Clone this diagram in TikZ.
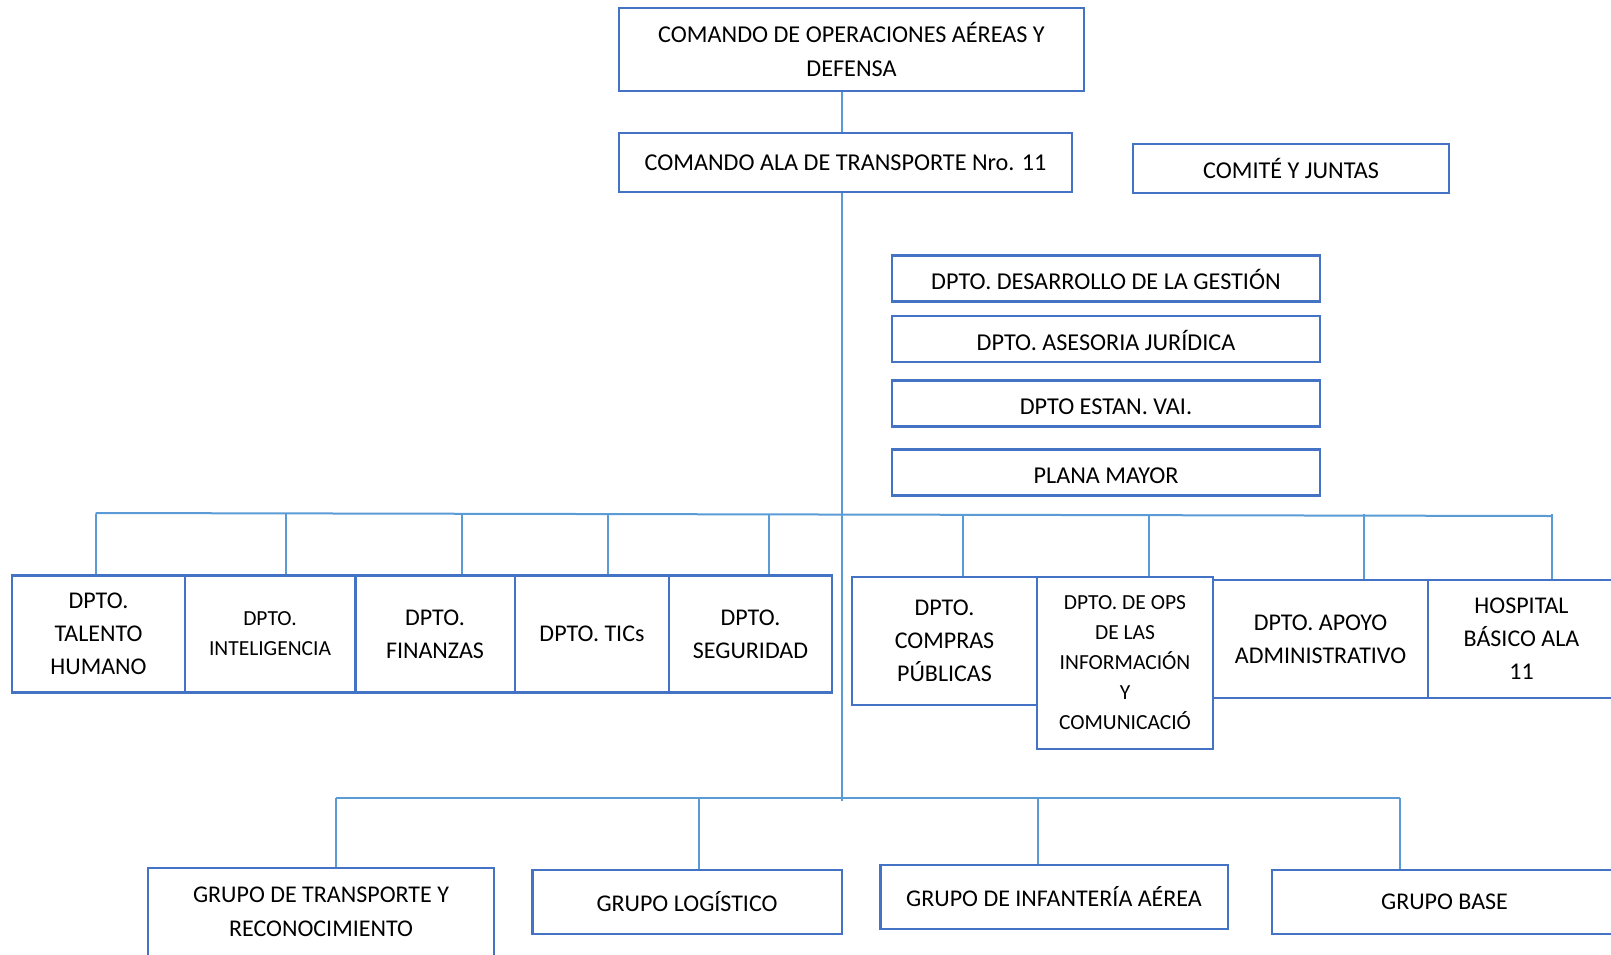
\documentclass[tikz,border=0pt]{standalone}
\usepackage{fontspec}
\setmainfont{Carlito}
\definecolor{boxblue}{HTML}{4472C4}
\definecolor{lineblue}{HTML}{5B9BD5}
\begin{document}
\begin{tikzpicture}[x=1pt, y=-1pt,
    unit/.style={draw=boxblue, line width=2.5pt, align=center, inner sep=0pt,
        font=\fontsize{24.2}{34}\selectfont},
    staff/.style={unit, minimum width=428pt, minimum height=46pt,
        text height=22pt, text depth=0pt},
    dept/.style={unit, font=\fontsize{24}{33}\selectfont, minimum height=117pt},
    smalltext/.style={font=\fontsize{21.5}{30}\selectfont},
    grupo/.style={unit, font=\fontsize{24}{34}\selectfont, minimum height=64pt},
    link/.style={draw=lineblue, line width=2pt}]
    \useasboundingbox (0,0) rectangle (1611,954);
    \clip (0,0) rectangle (1611,954);
    % mando
    \node[unit, minimum width=465pt, minimum height=83pt] (cao) at (851.5,49.5)
        {COMANDO DE OPERACIONES AÉREAS Y\\DEFENSA};
    \node[unit, minimum width=453pt, minimum height=59pt] (cat) at (845.5,162.5)
        {COMANDO ALA DE TRANSPORTE Nro. 11};
    \node[unit, minimum width=316pt, minimum height=49pt] (comite) at (1291,168.5)
        {COMITÉ Y JUNTAS};
    % staff
    \foreach \n/\y/\t in {desarrollo/278.5/DPTO. DESARROLLO DE LA GESTIÓN,
                          asesoria/339/DPTO. ASESORIA JURÍDICA,
                          estan/403.5/DPTO ESTAN. VAI.,
                          plana/472.5/PLANA MAYOR}
        \node[staff] (\n) at (1106,\y) {\t};
    % departamentos
    \node[dept, minimum width=173pt] (tal) at (98.5,634) {DPTO.\\TALENTO\\HUMANO};
    \node[dept, smalltext, minimum width=170.5pt] (intel) at (270,634) {DPTO.\\INTELIGENCIA};
    \node[dept, minimum width=159.5pt] (fin) at (435,634) {DPTO.\\FINANZAS};
    \node[dept, minimum width=154pt] (tics) at (592,634) {DPTO. TICs};
    \node[dept, minimum width=163pt] (seg) at (750.5,634) {DPTO.\\SEGURIDAD};
    \node[dept, minimum width=185pt, minimum height=128pt] (compras) at (944.5,641)
        {DPTO.\\COMPRAS\\PÚBLICAS};
    \node[dept, smalltext, minimum width=176pt, minimum height=172pt] (ops) at (1125,663)
        {DPTO. DE OPS\\DE LAS\\INFORMACIÓN\\Y\\COMUNICACIÓ};
    \node[dept, minimum width=215pt, minimum height=118pt] (apoyo) at (1320.5,639)
        {DPTO. APOYO\\ADMINISTRATIVO};
    \node[dept, minimum width=187pt, minimum height=118pt] (hosp) at (1521.5,639)
        {HOSPITAL\\BÁSICO ALA\\11};
    % grupos
    \node[grupo, minimum width=346pt, minimum height=88pt] (gtr) at (321,912)
        {GRUPO DE TRANSPORTE Y\\RECONOCIMIENTO};
    \node[grupo, minimum width=309.5pt] (glog) at (687,902) {GRUPO LOGÍSTICO};
    \node[grupo, minimum width=347.5pt] (ginf) at (1054,897) {GRUPO DE INFANTERÍA AÉREA};
    \node[grupo, minimum width=345pt] (gbase) at (1444.5,902) {GRUPO BASE};
    % lineas
    \coordinate (trunk) at (842,801);
    \draw[link] (cao.south -| trunk) -- (cat.north -| trunk);
    \draw[link] (cat.south -| trunk) -- (trunk);
    \coordinate (busL) at (95.5,513);
    \coordinate (busR) at (1552,516);
    \draw[link] (busL) -- (busR);
    \foreach \n/\x in {tal/95.5, intel/285.6, fin/462, tics/608, seg/768.5,
                       compras/962.7, ops/1148.6, apoyo/1364, hosp/1552}{
        \coordinate (d) at (\x,514);
        \draw[link] (d) -- (d |- \n.north);
    }
    \coordinate (gbusL) at (336,798);
    \coordinate (gbusR) at (1400,798);
    \draw[link] (gbusL) -- (gbusR);
    \foreach \n/\x in {gtr/336, glog/698.6, ginf/1037.7, gbase/1400}{
        \coordinate (g) at (\x,798);
        \draw[link] (g) -- (g |- \n.north);
    }
\end{tikzpicture}
\end{document}
